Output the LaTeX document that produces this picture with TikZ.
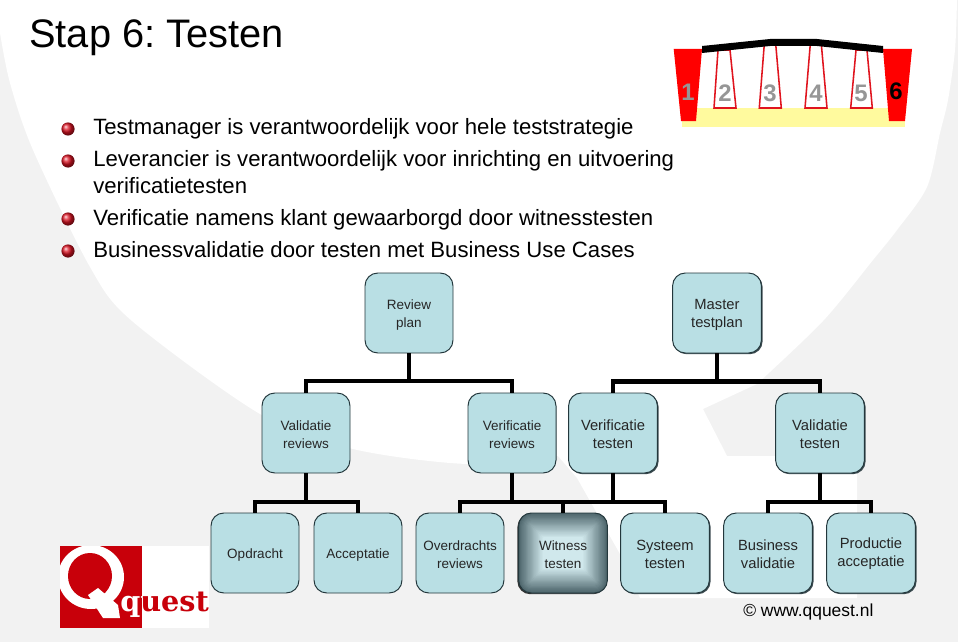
\documentclass[tikz,border=0pt]{standalone}
\usepackage{fontspec}
\setmainfont{Liberation Sans}
\newfontfamily\logofont{DejaVu Serif}
\usetikzlibrary{shadows}
\frenchspacing
\definecolor{sheet}{RGB}{242,242,242}
\definecolor{boxfill}{RGB}{185,223,228}
\definecolor{boxline}{RGB}{35,55,60}
\definecolor{boxshade}{RGB}{60,75,80}
\definecolor{witdark}{RGB}{78,102,108}
\definecolor{witlight}{RGB}{208,232,236}
\definecolor{pylon}{RGB}{255,0,0}
\definecolor{hanger}{RGB}{224,20,30}
\definecolor{road}{RGB}{255,250,158}
\definecolor{numgrey}{RGB}{150,150,150}
\definecolor{logored}{RGB}{200,0,10}
\definecolor{ballred}{RGB}{220,20,35}
\tikzset{
  tbox/.style={draw=boxline,fill=boxfill,line width=0.7pt,rounded corners=3.2mm,
    minimum width=22mm,minimum height=20mm,align=center,inner sep=0pt,text=black!85,
    font=\fontsize{9.6}{12.3}\selectfont},
  tboxs/.style={tbox,minimum width=22.2mm,font=\fontsize{10.5}{12.6}\selectfont,
    general shadow={fill=boxshade,shadow xshift=0.3mm,shadow yshift=-0.3mm}},
  lnk/.style={line width=2.3pt,draw=black},
  lnkb/.style={line width=2.9pt,draw=black},
  bullet/.style={circle,shading=ball,ball color=ballred,minimum size=3.3mm,inner sep=0pt},
  btext/.style={anchor=base west,inner sep=0pt,font=\fontsize{15.75}{18}\selectfont},
  num/.style={inner sep=0pt,text=numgrey,font=\fontsize{17}{18}\selectfont\bfseries},
}
\begin{document}
\begin{tikzpicture}[x=0.25mm,y=-0.25mm]
  \useasboundingbox (0,0) rectangle (960,642);
  % sheet with the white swoosh
  \fill[sheet] (0,0) rectangle (960,642);
  \fill[white] (0,0) -- plot[smooth] coordinates {(0,33) (10,83) (33,150) (90,267) (132,321)
      (260,414) (353,449) (467,464) (558,456)}
    -- (577,478) -- (620,554) -- (640,598) -- (857,598) -- (857,456) -- (727,456) -- (703,409)
    -- plot[smooth] coordinates {(757,384) (823,321) (873,260) (897,230) (927,187) (940,133) (948,100) (955,50) (957,0)} -- cycle;
  \fill[white] (958,0) rectangle (960,642);

  \node[anchor=base west,inner sep=0pt,font=\fontsize{28.3}{32}\selectfont] (title) at (29,48) {Stap 6: Testen};

  % bullets
  \foreach \y/\b/\t [count=\i] in {
      129/135/Testmanager is verantwoordelijk voor hele teststrategie,
      161/166.7/Leverancier is verantwoordelijk voor inrichting en uitvoering,
      219/225/Verificatie namens klant gewaarborgd door witnesstesten,
      251/257/Businessvalidatie door testen met Business Use Cases}
  {
    \node[bullet] (ball\i) at (68,\y) {};
    \node[btext] (line\i) at (93,\b) {\t};
  }
  \node[btext] (line2b) at (93,193) {verificatietesten};

  % bridge
  \fill[road] (682,108) rectangle (905,127);
  \foreach \a/\b/\c/\d/\ytop in {718/730/736/714/50,764.3/775.7/781.3/759.3/44,810.3/821.3/827/805/44,856/867/872.3/850.7/50}
    \draw[hanger,line width=1.1pt,fill=white] (\a,\ytop) -- (\b,\ytop) -- (\c,108) -- (\d,108) -- cycle;
  \fill[pylon] (673.7,49) -- (702,49) -- (696,121) -- (681,121) -- cycle;
  \fill[pylon] (883,49) -- (912,49) -- (905,121) -- (889,121) -- cycle;
  \fill[black] (702,46) -- (770,39) -- (817,39) -- (883,46) -- (883,53) -- (817,46) -- (770,46) -- (702,53) -- cycle;
  \foreach \t/\x/\y in {1/688/92,2/725/93.5,3/770/93.5,4/816/93,5/861/93}
    \node[num] (n\t) at (\x,\y) {\t};
  \node[num,text=black] (n6) at (896,91) {6};

  % logo
  \fill[white] (142,546) rectangle (209,628);
  \fill[logored] (60,546) rectangle (142,628);
  \begin{scope}
    \clip (60,546) rectangle (142,628);
    \fill[white] (91,577) circle [x radius=33,y radius=32];
    \fill[logored] (90,576) circle [x radius=22,y radius=23];
    \fill[white] (88,595) -- (98,588) -- (118,605) -- (120,618) -- (103,618) -- cycle;
  \end{scope}
  \node[anchor=base west,inner sep=0pt,text=logored,font=\logofont\bfseries\fontsize{20.4}{22}\selectfont] (qq) at (120,611) {quest};
  \begin{scope}
    \clip (60,546) rectangle (142,628);
    \node[anchor=base west,inner sep=0pt,text=white,font=\logofont\bfseries\fontsize{20.4}{22}\selectfont] (qw) at (120,611) {quest};
  \end{scope}

  % tree boxes
  \foreach \n/\t/\x/\y/\h in {rp/{Review\\plan}/409/313/22pt,vr/{Validatie\\reviews}/306/433/21.5pt,
      fr/{Verificatie\\reviews}/512/433/21.5pt,op/Opdracht/255/553/9.5pt,ac/Acceptatie/358/553/9.5pt,
      ov/{Overdrachts\\reviews}/460/553/21.5pt}
    \node[tbox,text height=\h] (\n) at (\x,\y) {\t};
  \foreach \n/\t/\x/\y/\h in {mt/{Master\\testplan}/717/313/23pt,ft/{Verificatie\\testen}/613/433/22pt,
      vt/{Validatie\\testen}/820/433/22pt,sy/{Systeem\\testen}/665/553/21.5pt,
      bu/{Business\\validatie}/768/553/21.5pt,pr/{Productie\\acceptatie}/871/553/21.5pt}
    \node[tboxs,text height=\h] (\n) at (\x,\y) {\t};
  \node[tbox,text height=21.5pt,minimum width=22.2mm,general shadow={fill=black!80,shadow xshift=-0.3mm,shadow yshift=-0.3mm},
    path picture={
      \foreach \k in {0,...,20} {
        \pgfmathtruncatemacro{\p}{\k*5}
        \pgfmathsetlengthmacro{\r}{max(0.3mm,3.2mm-\k*0.3mm)}
        \fill[witlight!\p!witdark,rounded corners=\r]
          ([shift={(\k*0.3mm,\k*0.3mm)}]path picture bounding box.south west) rectangle
          ([shift={(-\k*0.3mm,-\k*0.3mm)}]path picture bounding box.north east);
      }
    }] (wi) at (563,553) {Witness\\testen};

  % connectors
  \coordinate (h1) at (409,381);
  \coordinate (h2) at (717,381.5);
  \coordinate (h3) at (306,502);
  \coordinate (h4) at (512,502);
  \coordinate (h5) at (613,502);
  \coordinate (h6) at (820,502);
  \draw[lnk] (rp.south) -- (h1) (h1) -| (vr.north) (h1) -| (fr.north);
  \draw[lnkb] (mt.south) -- (h2) (h2) -| (ft.north) (h2) -| (vt.north);
  \draw[lnk] (vr.south) -- (h3) (h3) -| (op.north) (h3) -| (ac.north);
  \draw[lnk] (fr.south) -- (h4) (h4) -| (ov.north) (h4) -| (wi.north);
  \draw[lnk] (h5) -| (wi.north) (h5) -| (sy.north);
  \draw[lnk] (h6) -| (bu.north) (h6) -| (pr.north);
  \draw[lnkb] (ft.south) -- (h5);
  \draw[lnkb] (vt.south) -- (h6);

  \node[anchor=base west,inner sep=0pt,font=\fontsize{12.4}{15}\selectfont] (copy) at (743,616) {© www.qquest.nl};
\end{tikzpicture}
\end{document}
